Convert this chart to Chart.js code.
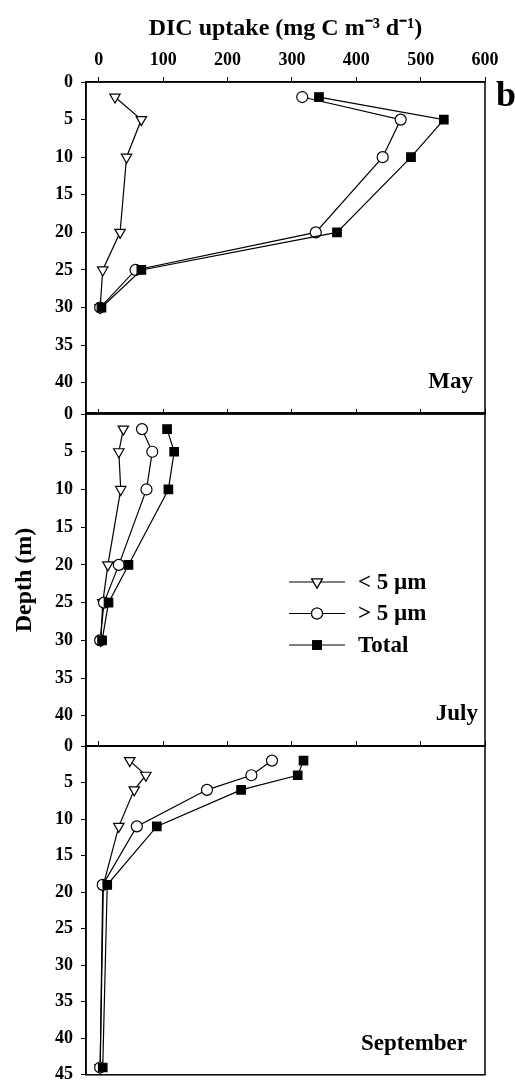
<!DOCTYPE html>
<html lang="en">
<head>
<meta charset="UTF-8">
<title>DIC uptake profiles</title>
<script src="https://cdn.jsdelivr.net/npm/chart.js"></script>
<style>
  body { margin: 0; background: #fff; }
  #wrap { position: relative; width: 515px; height: 1082px; overflow: hidden; }
  canvas { position: absolute; left: 0; }
</style>
</head>
<body>
<div id="wrap">
  <canvas id="may" width="515" height="420" style="top:0"></canvas>
  <canvas id="july" width="515" height="360" style="top:400px"></canvas>
  <canvas id="sep" width="515" height="350" style="top:732px"></canvas>
</div>
<script>
// values (depth in m, uptake in mg C m-3 d-1)
const seriesNames = ['< 5 \u00b5m', '> 5 \u00b5m', 'Total'];
const xTickValues = [0, 100, 200, 300, 400, 500, 600];
const depthTicks = [0, 5, 10, 15, 20, 25, 30, 35, 40];
const depthTicksSep = [0, 5, 10, 15, 20, 25, 30, 35, 40, 45];

const mayDepth = [2, 5, 10, 20, 25, 30];
const maySmall = [25, 66, 43, 33, 6, 2];
const mayLarge = [316, 469, 441, 337, 57, 2];
const mayTotal = [342, 536, 485, 370, 66, 4];

const julyDepth = [2, 5, 10, 20, 25, 30];
const julySmall = [38, 31, 34, 14, 6, 3];
const julyLarge = [67, 83, 74, 31, 8, 2];
const julyTotal = [106, 117, 108, 46, 15, 5];

const sepDepth = [2, 4, 6, 11, 19, 44];
const sepSmall = [48, 73, 55, 31, 7, 2];
const sepLarge = [269, 237, 168, 59, 6, 2];
const sepTotal = [318, 309, 221, 90, 13, 6];

const FONT = '"Liberation Serif", "Times New Roman", serif';
Chart.defaults.font.family = FONT;
Chart.defaults.font.weight = 'bold';
Chart.defaults.color = '#000';

// marker styles for the three size fractions
const markers = [
  { pointStyle: 'triangle', rotation: 180, radius: 6, bg: '#fff' },
  { pointStyle: 'circle', rotation: 0, radius: 5.5, bg: '#fff' },
  { pointStyle: 'rect', rotation: 0, radius: 6, bg: '#000' }
];

function makeDatasets(depth, small, large, total) {
  return [small, large, total].map((vals, i) => ({
    label: seriesNames[i],
    data: vals.map((v, k) => ({ x: v, y: depth[k] })),
    showLine: true,
    borderColor: '#000',
    borderWidth: 1.2,
    pointStyle: markers[i].pointStyle,
    rotation: markers[i].rotation,
    pointRadius: markers[i].radius,
    pointBackgroundColor: markers[i].bg,
    pointBorderColor: '#000',
    pointBorderWidth: 1.2,
    order: 2 - i,
    clip: false
  }));
}

function xScale(h, showLabels) {
  return {
    type: 'linear', position: 'top', min: -20, max: 600,
    afterBuildTicks: s => { s.ticks = xTickValues.map(v => ({ value: v })); },
    ticks: { display: showLabels, font: { size: 18, weight: 'bold' }, color: '#000', padding: 6, maxRotation: 0 },
    grid: { drawOnChartArea: false, color: '#000', tickLength: 5, lineWidth: 1 },
    border: { color: '#000', width: 1.5 },
    title: {
      display: showLabels,
      text: 'DIC uptake (mg C m\u207b\u00b3 d\u207b\u00b9)',
      font: { size: 24, weight: 'bold' }, color: '#000',
      padding: { top: 14, bottom: 0 }
    },
    afterFit: s => { s.height = h; s.paddingLeft = 0; s.paddingRight = 0; }
  };
}

function yScale(maxDepth, ticks, withTitle) {
  return {
    type: 'linear', reverse: true, min: 0, max: maxDepth,
    afterBuildTicks: s => { s.ticks = ticks.map(v => ({ value: v })); },
    ticks: { font: { size: 18, weight: 'bold' }, color: '#000', padding: 8, autoSkip: false },
    grid: { drawOnChartArea: false, color: '#000', tickLength: 5, lineWidth: 1 },
    border: { color: '#000', width: 1.5 },
    title: {
      display: withTitle, text: 'Depth (m)',
      font: { size: 24, weight: 'bold' }, color: '#000',
      padding: { top: 10, bottom: 0 }
    },
    afterFit: s => { s.width = 86; s.paddingTop = 0; s.paddingBottom = 0; }
  };
}

// frame round the plot area plus the month name inside it
const panelPlugin = {
  id: 'panel',
  afterDraw(chart, args, opts) {
    const { ctx, chartArea: a } = chart;
    ctx.save();
    ctx.strokeStyle = '#000';
    ctx.lineWidth = 1.5;
    ctx.strokeRect(a.left, a.top, a.right - a.left, a.bottom - a.top);
    ctx.fillStyle = '#000';
    ctx.font = 'bold 23px ' + FONT;
    ctx.textAlign = 'right';
    ctx.textBaseline = 'alphabetic';
    ctx.fillText(opts.month, a.right - opts.dx, a.bottom - opts.dy);
    if (opts.letter) {
      ctx.textAlign = 'left';
      ctx.font = 'bold 36px ' + FONT;
      ctx.fillText(opts.letter, a.right + 11, a.top + 24);
    }
    ctx.restore();
  }
};

// legend with line + marker, drawn inside the July panel
const legendPlugin = {
  id: 'lineLegend',
  afterDraw(chart, args, opts) {
    if (!opts.show) return;
    const ctx = chart.ctx;
    const a = chart.chartArea;
    ctx.save();
    chart.data.datasets.forEach((ds, i) => {
      const y = a.top + 168 + i * 31.5;
      const x0 = a.left + 203;
      ctx.strokeStyle = '#000';
      ctx.lineWidth = 1.2;
      ctx.beginPath();
      ctx.moveTo(x0, y);
      ctx.lineTo(x0 + 56, y);
      ctx.stroke();
      ctx.fillStyle = ds.pointBackgroundColor;
      Chart.helpers.drawPoint(ctx, {
        pointStyle: ds.pointStyle, rotation: ds.rotation,
        radius: ds.pointRadius, borderWidth: 1.2
      }, x0 + 28, y);
      ctx.fill();
      ctx.stroke();
      ctx.fillStyle = '#000';
      ctx.font = 'bold 23px ' + FONT;
      ctx.textAlign = 'left';
      ctx.textBaseline = 'middle';
      ctx.fillText(ds.label, x0 + 69, y + 1);
    });
    ctx.restore();
  }
};

function makeChart(id, datasets, cfg) {
  return new Chart(document.getElementById(id), {
    type: 'scatter',
    data: { datasets },
    options: {
      responsive: false,
      animation: false,
      devicePixelRatio: 1,
      layout: { padding: { left: 0, right: 30, top: 0, bottom: cfg.bottomPad } },
      scales: {
        x: xScale(cfg.xHeight, cfg.xLabels),
        y: yScale(cfg.maxDepth, cfg.ticks, cfg.yTitle)
      },
      plugins: {
        legend: { display: false },
        tooltip: { enabled: false },
        panel: { month: cfg.month, dx: cfg.dx, dy: cfg.dy, letter: cfg.letter },
        lineLegend: { show: cfg.legend }
      }
    },
    plugins: [panelPlugin, legendPlugin]
  });
}

makeChart('may', makeDatasets(mayDepth, maySmall, mayLarge, mayTotal), {
  bottomPad: 6, xHeight: 82, xLabels: true, maxDepth: 44, ticks: depthTicks,
  yTitle: false, month: 'May', dx: 12, dy: 25, letter: 'b', legend: false
});
makeChart('july', makeDatasets(julyDepth, julySmall, julyLarge, julyTotal), {
  bottomPad: 14, xHeight: 14, xLabels: false, maxDepth: 44, ticks: depthTicks,
  yTitle: true, month: 'July', dx: 7, dy: 26, legend: true
});
makeChart('sep', makeDatasets(sepDepth, sepSmall, sepLarge, sepTotal), {
  bottomPad: 4, xHeight: 14, xLabels: false, maxDepth: 45, ticks: depthTicksSep,
  yTitle: false, month: 'September', dx: 18, dy: 25, legend: false
});
</script>
</body>
</html>
